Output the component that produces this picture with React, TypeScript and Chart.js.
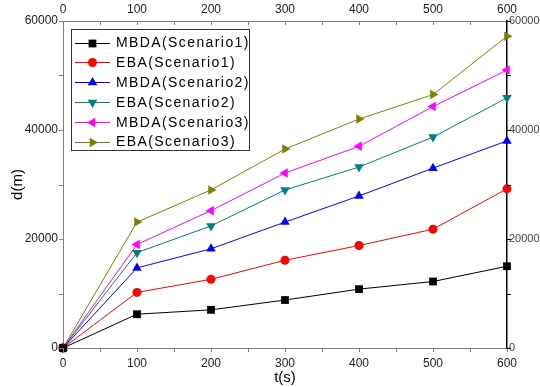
import React, { useEffect, useRef } from 'react';
import { Chart, registerables } from 'chart.js';

Chart.register(...registerables);

const times = [0, 100, 200, 300, 400, 500, 600];
const mbda1 = [0, 6200, 7000, 8800, 10800, 12200, 15000];
const eba1 = [0, 10200, 12600, 16100, 18800, 21800, 29200];
const mbda2 = [0, 14700, 18200, 23100, 27900, 33000, 38000];
const eba2 = [0, 17500, 22400, 29000, 33200, 38700, 45900];
const mbda3 = [0, 19000, 25200, 32100, 37000, 44300, 51000];
const eba3 = [0, 23100, 29000, 36500, 42000, 46500, 57200];

const seriesNames = [
  'MBDA(Scenario1)',
  'EBA(Scenario1)',
  'MBDA(Scenario2)',
  'EBA(Scenario2)',
  'MBDA(Scenario3)',
  'EBA(Scenario3)',
];
const seriesValues = [mbda1, eba1, mbda2, eba2, mbda3, eba3];
const seriesColors = ['#000000', '#ff0000', '#0000ff', '#008080', '#ff00ff', '#808000'];
const seriesShapes = ['rect', 'circle', 'triangle', 'triangle', 'triangle', 'triangle'];
const seriesRotations = [0, 0, 0, 180, -90, 90];
const seriesRadii = [5.5, 4.5, 5.5, 5.5, 5.5, 5.5];

const xMin = 0, xMax = 600, xMajor = 100, xMinor = 50;
const yMin = 0, yMax = 60000, yMajor = 20000, yMinor = 10000;

const FONT = '"Liberation Sans", Arial, sans-serif';

function drawMarker(ctx: CanvasRenderingContext2D, shape: string, x: number, y: number, r: number, rot: number, color: string) {
  ctx.save();
  ctx.fillStyle = color;
  ctx.beginPath();
  if (shape === 'rect') {
    const s = Math.SQRT1_2 * r;
    ctx.rect(x - s, y - s, 2 * s, 2 * s);
  } else if (shape === 'circle') {
    ctx.arc(x, y, r, 0, Math.PI * 2);
  } else {
    const base = (rot * Math.PI) / 180;
    for (let i = 0; i < 3; i++) {
      const a = base + (i * 2 * Math.PI) / 3;
      const px = x + Math.sin(a) * r;
      const py = y - Math.cos(a) * r;
      if (i === 0) ctx.moveTo(px, py);
      else ctx.lineTo(px, py);
    }
    ctx.closePath();
  }
  ctx.fill();
  ctx.restore();
}

const decorPlugin = {
  id: 'decor',
  afterDraw(chart: any) {
    const ctx: CanvasRenderingContext2D = chart.ctx;
    const { x, x2, y, y2 } = chart.scales;
    ctx.save();
    ctx.lineWidth = 1;
    ctx.strokeStyle = '#808080';
    ctx.beginPath();
    for (let v = xMin; v <= xMax; v += xMinor) {
      const px = Math.round(x.getPixelForValue(v)) + 0.5;
      ctx.moveTo(px, x.top);
      ctx.lineTo(px, x.top + 4);
      ctx.moveTo(px, x2.bottom);
      ctx.lineTo(px, x2.bottom + 4);
    }
    for (let v = yMin; v <= yMax; v += yMinor) {
      const py = Math.round(y.getPixelForValue(v)) + 0.5;
      ctx.moveTo(y.right - 4, py);
      ctx.lineTo(y.right, py);
    }
    ctx.stroke();
    ctx.strokeStyle = '#000000';
    ctx.beginPath();
    for (let v = yMin; v <= yMax; v += yMinor) {
      const py = Math.round(y2.getPixelForValue(v)) + 0.5;
      ctx.moveTo(y2.left, py);
      ctx.lineTo(y2.left + 4, py);
    }
    ctx.stroke();

    // legend box
    const bx = 71.5, by = 29.5, bw = 178, bh = 121;
    ctx.fillStyle = '#ffffff';
    ctx.fillRect(bx, by, bw, bh);
    ctx.strokeStyle = '#333333';
    ctx.lineWidth = 1;
    ctx.strokeRect(bx, by, bw, bh);
    ctx.font = `14px ${FONT}`;
    (ctx as any).letterSpacing = '1.4px';
    ctx.textBaseline = 'middle';
    ctx.textAlign = 'left';
    chart.data.datasets.forEach((ds: any, i: number) => {
      const cy = 42.5 + i * 19.8;
      ctx.strokeStyle = ds.borderColor;
      ctx.lineWidth = 1;
      ctx.beginPath();
      ctx.moveTo(75, Math.round(cy) + 0.5);
      ctx.lineTo(110, Math.round(cy) + 0.5);
      ctx.stroke();
      drawMarker(ctx, seriesShapes[i], 92.5, Math.round(cy) + 0.5, seriesRadii[i], seriesRotations[i], seriesColors[i]);
      ctx.fillStyle = '#000000';
      ctx.fillText(ds.label, 116, cy + 1);
    });
    ctx.restore();
  },
};

const plain = (v: any) => String(v);

export default function App() {
  const ref = useRef<HTMLCanvasElement | null>(null);
  useEffect(() => {
    document.body.style.margin = '0';
    const canvas = ref.current;
    if (!canvas) return;
    const datasets = seriesNames.map((name, i) => ({
      label: name,
      data: times.map((t, j) => ({ x: t, y: seriesValues[i][j] })),
      borderColor: seriesColors[i],
      backgroundColor: seriesColors[i],
      borderWidth: 1,
      pointStyle: seriesShapes[i],
      pointRotation: seriesRotations[i],
      pointRadius: seriesRadii[i],
      pointBorderWidth: 0,
      tension: 0,
      fill: false,
      clip: false as any,
      xAxisID: 'x',
      yAxisID: 'y',
    }));
    const chart = new Chart(canvas, {
      type: 'line',
      data: { datasets },
      plugins: [decorPlugin],
      options: {
        responsive: false,
        animation: false,
        layout: { padding: 0 },
        plugins: { legend: { display: false }, tooltip: { enabled: false } },
        scales: {
          x: {
            type: 'linear',
            position: 'bottom',
            min: xMin,
            max: xMax,
            afterFit: (s: any) => { s.height = 39; },
            grid: { display: false, drawTicks: false },
            border: { display: true, color: '#808080', width: 1 },
            ticks: { stepSize: xMajor, font: { size: 12, family: FONT }, color: '#222', padding: 8, maxRotation: 0, callback: plain },
            title: { display: true, text: 't(s)', font: { size: 15, family: FONT }, color: '#000', padding: { top: 0, bottom: 0 } },
          },
          x2: {
            type: 'linear',
            position: 'top',
            min: xMin,
            max: xMax,
            afterFit: (s: any) => { s.height = 21; },
            grid: { display: false, drawTicks: false },
            border: { display: true, color: '#808080', width: 1 },
            ticks: { stepSize: xMajor, font: { size: 12, family: FONT }, color: '#222', padding: 4, maxRotation: 0, callback: plain },
          },
          y: {
            type: 'linear',
            position: 'left',
            min: yMin,
            max: yMax,
            afterFit: (s: any) => { s.width = 63; },
            grid: { display: false, drawTicks: false },
            border: { display: true, color: '#808080', width: 1 },
            ticks: { stepSize: yMajor, font: { size: 12, family: FONT }, color: '#222', padding: 5, callback: plain },
            title: { display: true, text: 'd(m)', font: { size: 15, family: FONT }, color: '#000', padding: { top: 9, bottom: 0 } },
          },
          y2: {
            type: 'linear',
            position: 'right',
            min: yMin,
            max: yMax,
            afterFit: (s: any) => { s.width = 33; },
            grid: { display: false, drawTicks: false },
            border: { display: true, color: '#000000', width: 1.5 },
            ticks: { stepSize: yMajor, font: { size: 11, family: FONT }, color: '#444', padding: 2, callback: plain },
          },
        },
      },
    });
    return () => chart.destroy();
  }, []);
  return <canvas ref={ref} width={540} height={387} style={{ display: 'block', width: 540, height: 387 }} />;
}
